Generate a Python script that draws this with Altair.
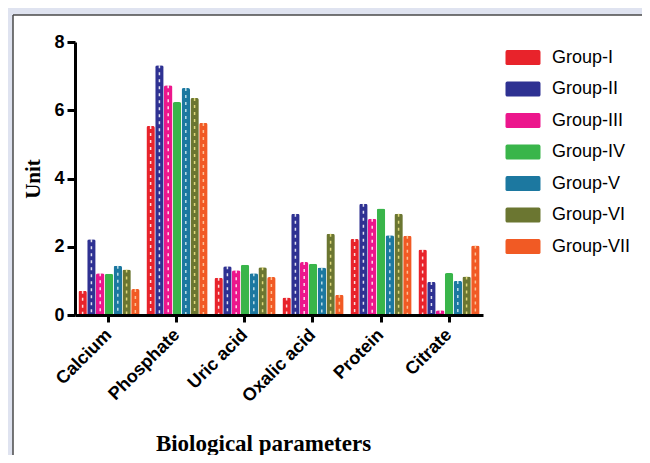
import altair as alt
import pandas as pd

params = ["Calcium", "Phosphate", "Uric acid", "Oxalic acid", "Protein", "Citrate"]
groups = ["Group-I", "Group-II", "Group-III", "Group-IV", "Group-V", "Group-VI", "Group-VII"]

g1 = [0.71, 5.54, 1.09, 0.51, 2.23, 1.92]
g2 = [2.22, 7.32, 1.43, 2.97, 3.26, 0.97]
g3 = [1.22, 6.73, 1.31, 1.55, 2.82, 0.14]
g4 = [1.21, 6.24, 1.47, 1.50, 3.12, 1.23]
g5 = [1.44, 6.65, 1.22, 1.39, 2.34, 1.00]
g6 = [1.33, 6.36, 1.40, 2.38, 2.97, 1.13]
g7 = [0.76, 5.63, 1.11, 0.59, 2.32, 2.04]

colors = ["#e8232b", "#2e3192", "#ec168c", "#39b54a", "#1c78a0", "#6b7631", "#f15a24"]
dash_colors = ["#ffffff", "#ffffff", "#ffffff", "rgba(0,0,0,0)", "#d8eef5", "#f3ea8a", "#ffd2a8"]

rows = []
for grp, vals in zip(groups, [g1, g2, g3, g4, g5, g6, g7]):
    for p, v in zip(params, vals):
        rows.append({"param": p, "group": grp, "value": v})
df = pd.DataFrame(rows)

W, H = 408, 273

x_enc = alt.X(
    "param:N", sort=params,
    scale=alt.Scale(paddingInner=0.1, paddingOuter=0.05),
    axis=alt.Axis(
        title="Biological parameters", labelAngle=-45, labelAlign="right",
        labelBaseline="middle", labelPadding=10,
        labelFont="Liberation Sans", labelFontWeight="bold", labelFontSize=18, labelColor="black",
        titleFont="Liberation Serif", titleFontWeight="bold", titleFontSize=23, titleColor="black",
        titleX=188, titleY=135, titleBaseline="alphabetic", titleAlign="center",
        domainColor="black", domainWidth=3, tickColor="black", tickWidth=3, tickSize=7,
        zindex=1,
    ),
)
xo_enc = alt.XOffset("group:N", sort=groups, scale=alt.Scale(paddingInner=0.04, paddingOuter=0))
y_enc = alt.Y(
    "value:Q", scale=alt.Scale(domain=[0, 8], nice=False),
    axis=alt.Axis(
        title="Unit", values=[0, 2, 4, 6, 8], grid=False,
        labelFont="Liberation Sans", labelFontWeight="bold", labelFontSize=18, labelColor="black",
        labelPadding=3,
        titleFont="Liberation Serif", titleFontWeight="bold", titleFontSize=21, titleColor="black",
        titleX=-42, titleY=H / 2, titleBaseline="middle", titleAlign="center",
        domainColor="black", domainWidth=3, tickColor="black", tickWidth=3, tickSize=8,
        zindex=1,
    ),
)

one = pd.DataFrame({"a": [0]})
panel = alt.Chart(one).mark_rect(fill="white", strokeWidth=0).encode(
    x=alt.value(-62), x2=alt.value(800), y=alt.value(-27), y2=alt.value(600)
)
border_left = alt.Chart(one).mark_rule(color="#4a4a4a", strokeWidth=1.5).encode(
    x=alt.value(-62), y=alt.value(-27), y2=alt.value(600)
)
border_top = alt.Chart(one).mark_rule(color="#4a4a4a", strokeWidth=1.5).encode(
    x=alt.value(-62), x2=alt.value(800), y=alt.value(-27)
)

legend_path = (
    "M-2.1,-1L2.1,-1Q2.333,-1 2.333,-0.75L2.333,0.75Q2.333,1 2.1,1"
    "L-2.1,1Q-2.333,1 -2.333,0.75L-2.333,-0.75Q-2.333,-1 -2.1,-1Z"
)

bars = alt.Chart(df).mark_bar(cornerRadiusTopLeft=2, cornerRadiusTopRight=2).encode(
    x=x_enc, xOffset=xo_enc, y=y_enc,
    color=alt.Color(
        "group:N", sort=groups,
        scale=alt.Scale(domain=groups, range=colors),
        legend=alt.Legend(
            title=None, orient="none", legendX=439, legendY=6.5,
            symbolType=legend_path, symbolSize=225,
            symbolStrokeWidth=0, symbolOpacity=1,
            labelFont="Liberation Sans", labelFontSize=18, labelColor="black",
            labelOffset=20, rowPadding=13.5, padding=0, zindex=1,
        ),
    ),
)

dashes = alt.Chart(df).mark_rule(strokeDash=[3, 4], strokeWidth=1.5, opacity=0.85).encode(
    x=alt.X("param:N", sort=params), xOffset=alt.XOffset("group:N", sort=groups),
    y=alt.Y("value:Q"), y2=alt.datum(0),
    color=alt.Color("group:N", scale=alt.Scale(domain=groups, range=dash_colors), legend=None),
)

chart = alt.layer(panel, border_left, border_top, bars, dashes).resolve_scale(
    color="independent"
).properties(
    width=W, height=H,
    autosize=alt.AutoSizeParams(type="none"),
    padding={"left": 67, "top": 34, "right": 159, "bottom": 140},
    background="#dfe3f0",
).configure_view(stroke=None)

chart.save("out.html", embed_options={"renderer": "svg", "actions": False})
